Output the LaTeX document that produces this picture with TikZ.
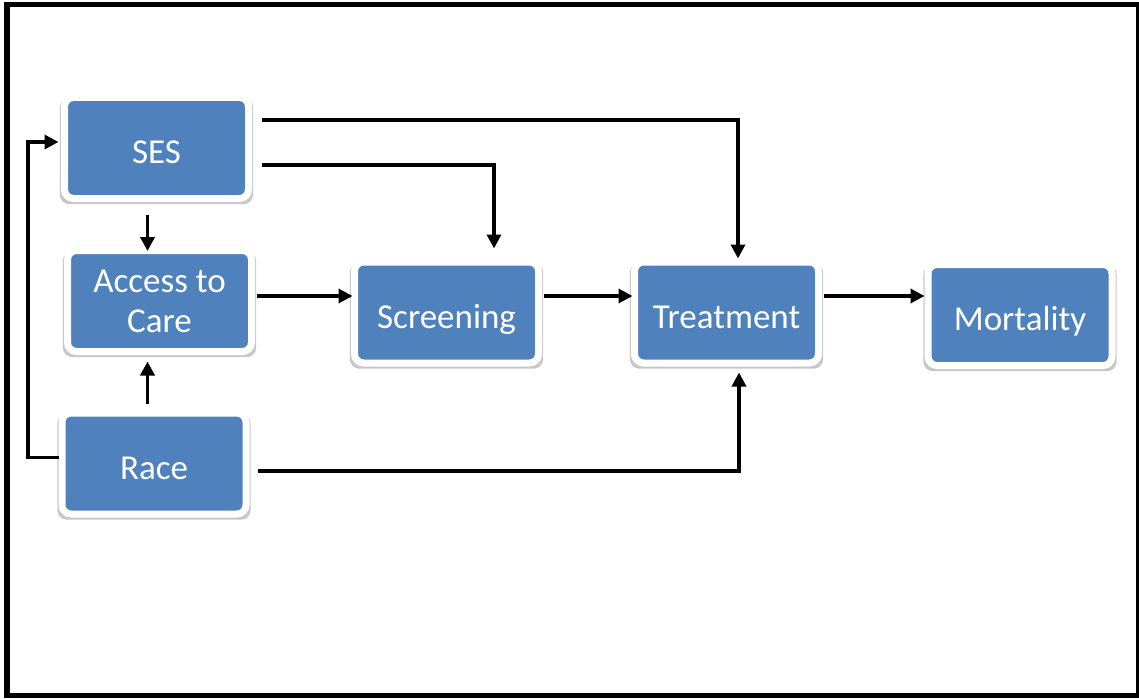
\documentclass[tikz,border=0pt]{standalone}
\usepackage{fontspec}
\setmainfont{Carlito}
\usetikzlibrary{arrows.meta,shadows,calc}
\definecolor{boxblue}{HTML}{4F81BD}
\tikzset{
  box/.style={fill=boxblue, draw=white, line width=7pt, rounded corners=9pt,
    minimum width=184pt, minimum height=101pt, inner sep=0pt, text=white,
    font=\fontsize{35}{40}\selectfont, align=center,
    text height=33pt, text depth=2pt,
    drop shadow={shadow xshift=0pt, shadow yshift=-3pt, shadow scale=1.05, opacity=0.22, fill=black}},
  arr/.style={line width=3.6pt, -{Triangle[length=14pt,width=14pt]}},
}
\begin{document}
\begin{tikzpicture}[x=1pt,y=-1pt]
\useasboundingbox (0,0) rectangle (1139,698);
\draw[line width=5.5pt] (7,4.5) rectangle (1138.5,695.5);
\node[box] (SES) at (156.5,148) {SES};
\node[box, text height=, text depth=] (Access) at (159.5,301) {\raisebox{-2.5pt}{Access to}\\\raisebox{-2.5pt}{Care}};
\node[box] (Screening) at (446.5,312.5) {Screening};
\node[box] (Treatment) at (726.5,312.5) {Treatment};
\node[box] (Mortality) at (1020,315) {Mortality};
\node[box] (Race) at (154,463.5) {Race};
\coordinate (loop) at (28,0);
% SES -> Access
\draw[arr] ([xshift=-9pt,yshift=-13pt]SES.south) -- ([xshift=-12pt,yshift=-4pt]Access.north);
% Race -> Access
\draw[arr] ([xshift=-6.5pt,yshift=5.5pt]Race.north) -- ([xshift=-6.5pt,yshift=-6.5pt]Race.north |- Access.south);
% Access -> Screening
\draw[arr] ([xshift=1.5pt,yshift=5pt]Access.east) -- ([xshift=1.5pt,yshift=5pt]Access.east -| Screening.west);
% Screening -> Treatment
\draw[arr] ([xshift=1.5pt,yshift=16.5pt]Screening.east) -- ([xshift=1.5pt,yshift=16.5pt]Screening.east -| Treatment.west);
% Treatment -> Mortality
\draw[arr] ([xshift=1.5pt,yshift=16.5pt]Treatment.east) -- ([xshift=0pt,yshift=16.5pt]Treatment.east -| Mortality.west);
% SES -> Treatment (top)
\draw[arr] ([xshift=10pt,yshift=28pt]SES.east) -| ([xshift=11.5pt]Treatment.north);
% SES -> Screening
\draw[arr] ([xshift=9.5pt,yshift=-17pt]SES.east) -| ([xshift=47.5pt,yshift=10pt]Screening.north);
% Race -> Treatment
\draw[arr] ([xshift=8.5pt,yshift=-7.5pt]Race.east) -| ([xshift=12.5pt,yshift=-6pt]Treatment.south);
% Race -> SES
\draw[arr] ([yshift=6pt]Race.west) -- ([yshift=6pt]Race.west -| loop) |- ([xshift=-2.5pt,yshift=6pt]SES.west);
\end{tikzpicture}
\end{document}
